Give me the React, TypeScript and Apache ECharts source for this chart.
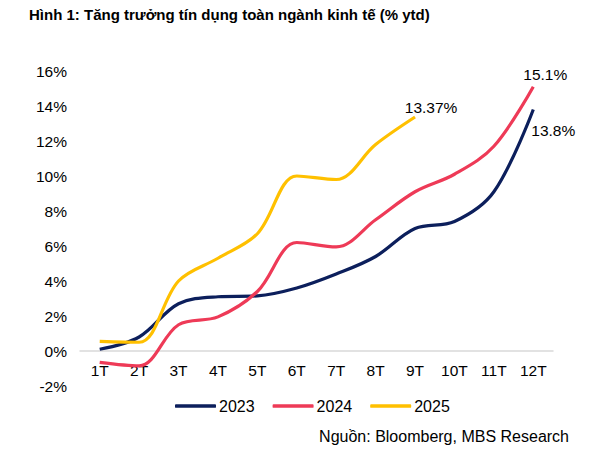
import * as echarts from 'echarts'
import React, { useEffect, useRef } from 'react'

const months = ['1T', '2T', '3T', '4T', '5T', '6T', '7T', '8T', '9T', '10T', '11T', '12T']
const y2023 = [0.1, 0.8, 2.7, 3.1, 3.15, 3.6, 4.4, 5.4, 7.0, 7.4, 9.1, 13.8]
const y2024 = [-0.65, -0.85, 1.5, 1.95, 3.4, 6.2, 5.95, 7.5, 9.1, 10.1, 11.7, 15.1]
const y2025 = [0.55, 0.5, 4.0, 5.3, 6.7, 10.0, 9.8, 11.8, 13.37]

const FONT = '"Liberation Sans", Arial, sans-serif'

const App: React.FC = () => {
  const chartRef = useRef<HTMLDivElement>(null)

  useEffect(() => {
    document.body.style.margin = '0'
    const chart = echarts.init(chartRef.current!, null, { renderer: 'svg' })
    // nhãn giá trị ở điểm cuối mỗi đường
    const endLabel = (offset: number[]) => ({
      show: true,
      color: '#000',
      fontSize: 15.5,
      fontFamily: FONT,
      align: 'center',
      verticalAlign: 'middle',
      distance: 0,
      offset,
      formatter: (p: any) => p.value + '%'
    })
    chart.setOption({
      animation: false,
      textStyle: { fontFamily: FONT },
      grid: { left: 80, right: 40, top: 71, bottom: 76 },
      xAxis: {
        type: 'category',
        data: months,
        boundaryGap: true,
        offset: -35,
        axisLine: { onZero: false, lineStyle: { color: '#d9d9d9', width: 1.5 } },
        axisTick: { show: false },
        axisLabel: { color: '#000', fontSize: 15.5, margin: 11 }
      },
      yAxis: {
        type: 'value',
        min: -2,
        max: 16,
        interval: 2,
        splitLine: { show: false },
        axisLine: { show: false },
        axisTick: { show: false },
        axisLabel: { color: '#000', fontSize: 15.5, margin: 13, formatter: '{value}%' }
      },
      legend: {
        top: 393,
        left: 170,
        itemWidth: 41,
        itemHeight: 3.5,
        itemGap: 18,
        icon: 'roundRect',
        textStyle: { color: '#000', fontSize: 16, padding: [0, 0, 0, -2] },
        data: ['2023', '2024', '2025']
      },
      series: [
        {
          name: '2023',
          type: 'line',
          smooth: 0.35,
          symbol: 'none',
          color: '#0C1F5C',
          lineStyle: { width: 3.2 },
          endLabel: endLabel([20, 21]),
          data: y2023
        },
        {
          name: '2024',
          type: 'line',
          smooth: 0.35,
          symbol: 'none',
          color: '#EE3A57',
          lineStyle: { width: 3.2 },
          endLabel: endLabel([12, -12]),
          data: y2024
        },
        {
          name: '2025',
          type: 'line',
          smooth: 0.35,
          symbol: 'none',
          color: '#FFC000',
          lineStyle: { width: 3.2 },
          endLabel: endLabel([16, -10]),
          data: y2025
        }
      ],
      graphic: [
        {
          type: 'text',
          left: 29,
          top: 7,
          style: {
            text: 'Hình 1: Tăng trưởng tín dụng toàn ngành kinh tế (% ytd)',
            fontSize: 15,
            fontWeight: 'bold',
            fontFamily: FONT,
            fill: '#000'
          }
        },
        {
          type: 'text',
          right: 24,
          top: 428,
          style: {
            text: 'Nguồn: Bloomberg, MBS Research',
            fontSize: 16,
            fontFamily: FONT,
            fill: '#000'
          }
        }
      ]
    })
    return () => {
      chart.dispose()
    }
  }, [])

  return <div ref={chartRef} style={{ width: 593, height: 462 }} />
}

export default App
